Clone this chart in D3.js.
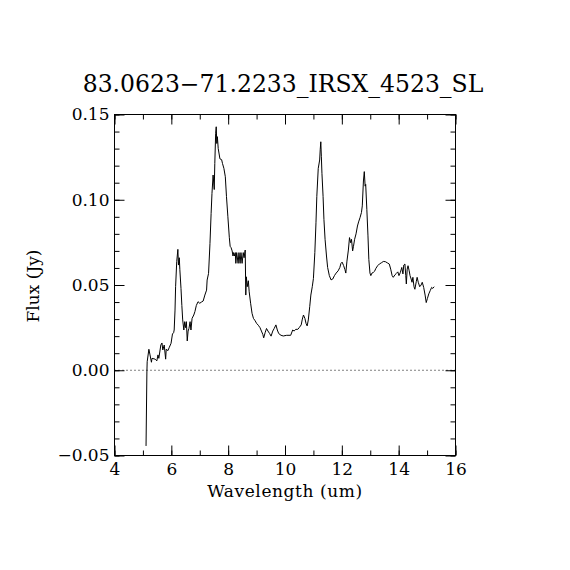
<!DOCTYPE html>
<html>
<head>
<meta charset="utf-8">
<script src="https://cdn.jsdelivr.net/npm/d3@7"></script>
<style>
  body { margin: 0; background: #fff; }
  text { font-family: "DejaVu Serif", "Liberation Serif", serif; fill: #000; }
</style>
</head>
<body>
<svg id="chart" width="570" height="570"></svg>
<script>
const svg = d3.select("#chart");

// spectrum: wavelength (um) and flux (Jy)
const wavelength = [5.11, 5.14, 5.15, 5.21, 5.25, 5.30, 5.32, 5.43, 5.49, 5.53, 5.56, 5.63, 5.67, 5.70, 5.75, 5.80, 5.82, 5.88, 5.93, 5.99,
  6.04, 6.08, 6.10, 6.13, 6.15, 6.19, 6.23, 6.25, 6.28, 6.30, 6.34, 6.37, 6.40, 6.44, 6.47, 6.50, 6.53, 6.56, 6.59, 6.62,
  6.66, 6.69, 6.73, 6.79, 6.83, 6.88, 6.94, 7.00, 7.06, 7.12, 7.18, 7.24, 7.26, 7.31, 7.36, 7.40, 7.43, 7.47, 7.51, 7.53,
  7.56, 7.58, 7.60, 7.62, 7.65, 7.71, 7.77, 7.80, 7.85, 7.90, 7.94, 7.99, 8.04, 8.07, 8.10, 8.14, 8.17, 8.19, 8.22, 8.25,
  8.27, 8.30, 8.35, 8.38, 8.42, 8.45, 8.49, 8.53, 8.56, 8.60, 8.62, 8.64, 8.67, 8.71, 8.74, 8.79, 8.84, 8.89, 8.95, 9.00,
  9.06, 9.12, 9.17, 9.22, 9.25, 9.30, 9.35, 9.40, 9.46, 9.51, 9.57, 9.62, 9.68, 9.73, 9.78, 9.86, 9.94, 10.06, 10.20, 10.27,
  10.32, 10.38, 10.45, 10.50, 10.57, 10.61, 10.65, 10.70, 10.74, 10.78, 10.82, 10.87, 10.91, 10.96, 11.00, 11.05, 11.09, 11.12, 11.17, 11.22,
  11.24, 11.26, 11.28, 11.30, 11.34, 11.37, 11.41, 11.46, 11.50, 11.56, 11.62, 11.68, 11.74, 11.80, 11.87, 11.93, 11.97, 12.01, 12.06, 12.11,
  12.14, 12.18, 12.23, 12.27, 12.31, 12.34, 12.38, 12.41, 12.45, 12.50, 12.55, 12.59, 12.64, 12.69, 12.72, 12.76, 12.79, 12.82, 12.84, 12.88,
  12.92, 12.95, 12.99, 13.02, 13.06, 13.11, 13.15, 13.20, 13.26, 13.32, 13.39, 13.46, 13.53, 13.60, 13.67, 13.72, 13.77, 13.81, 13.87, 13.92,
  13.97, 14.01, 14.06, 14.11, 14.15, 14.18, 14.22, 14.25, 14.27, 14.30, 14.33, 14.37, 14.40, 14.44, 14.47, 14.50, 14.54, 14.57, 14.62, 14.65,
  14.69, 14.74, 14.79, 14.83, 14.88, 14.93, 14.97, 15.01, 15.06, 15.11, 15.16, 15.20, 15.25];
const flux = [-0.0444, -0.001, 0.005, 0.0123, 0.009, 0.0047, 0.007, 0.0065, 0.0055, 0.009, 0.007, 0.0148, 0.016, 0.0119, 0.0148, 0.0065, 0.0123, 0.0115, 0.0135, 0.0158,
  0.0213, 0.022, 0.0236, 0.0353, 0.049, 0.0637, 0.0709, 0.0617, 0.066, 0.059, 0.048, 0.038, 0.0295, 0.0236, 0.0285, 0.025, 0.0285, 0.0172, 0.023, 0.0245,
  0.0285, 0.0236, 0.0304, 0.0324, 0.0344, 0.038, 0.0402, 0.0393, 0.040, 0.0406, 0.0441, 0.047, 0.0529, 0.0568, 0.0744, 0.092, 0.1037, 0.1145, 0.106, 0.1213,
  0.139, 0.1428, 0.133, 0.137, 0.130, 0.124, 0.1235, 0.1213, 0.1184, 0.1135, 0.102, 0.090, 0.078, 0.0727, 0.072, 0.070, 0.067, 0.069, 0.067, 0.069,
  0.0627, 0.069, 0.0627, 0.069, 0.0627, 0.069, 0.0627, 0.069, 0.066, 0.0705, 0.0441, 0.0548, 0.049, 0.0525, 0.046, 0.0393, 0.0334, 0.0304, 0.029, 0.0275,
  0.0264, 0.025, 0.023, 0.021, 0.019, 0.022, 0.0245, 0.023, 0.0215, 0.020, 0.023, 0.0245, 0.0266, 0.0236, 0.0215, 0.0205, 0.0201, 0.0205, 0.0205, 0.0236,
  0.023, 0.024, 0.024, 0.025, 0.0266, 0.030, 0.0324, 0.0304, 0.0275, 0.026, 0.0295, 0.0373, 0.0441, 0.049, 0.0538, 0.069, 0.0865, 0.102, 0.1184, 0.1233,
  0.1296, 0.134, 0.1252, 0.1155, 0.102, 0.0885, 0.0768, 0.067, 0.0603, 0.0555, 0.053, 0.0535, 0.0555, 0.057, 0.0583, 0.0603, 0.0627, 0.0634, 0.0615, 0.059,
  0.057, 0.064, 0.0705, 0.0778, 0.0748, 0.0768, 0.070, 0.0727, 0.0768, 0.080, 0.0846, 0.087, 0.0895, 0.0925, 0.0964, 0.111, 0.1165, 0.108, 0.109, 0.0944,
  0.0788, 0.065, 0.057, 0.0555, 0.057, 0.0574, 0.058, 0.0598, 0.0613, 0.0623, 0.063, 0.0638, 0.0637, 0.063, 0.0623, 0.0593, 0.0555, 0.0545, 0.056, 0.0568,
  0.0577, 0.0555, 0.0574, 0.0603, 0.0565, 0.0617, 0.0623, 0.0555, 0.0506, 0.0593, 0.0613, 0.0583, 0.0555, 0.0535, 0.0516, 0.0545, 0.049, 0.0475, 0.052, 0.0545,
  0.0516, 0.049, 0.050, 0.0516, 0.0486, 0.0441, 0.0397, 0.042, 0.0448, 0.0467, 0.0486, 0.048, 0.049];

const xTicks = [4, 6, 8, 10, 12, 14, 16];
const yTicks = [-0.05, 0.00, 0.05, 0.10, 0.15];
const title = "83.0623\u221271.2233_IRSX_4523_SL";

const mLeft = 114.5, mRight = 455.5, mTop = 114.5, mBottom = 455.5;

const x = d3.scaleLinear().domain([4, 16]).range([mLeft, mRight]);
const y = d3.scaleLinear().domain([-0.05, 0.15]).range([mBottom, mTop]);

// minor ticks
const xMinor = d3.range(4, 16.01, 1);
const yMinor = d3.range(-0.05, 0.1501, 0.01);

const fmtY = d => (d < -1e-9 ? "\u2212" : "") + Math.abs(d).toFixed(2);

// bottom axis with labels
svg.append("g")
    .attr("transform", `translate(0,${mBottom})`)
    .call(d3.axisBottom(x).tickValues(xMinor).tickSize(-5).tickFormat(""))
    .call(g => g.select(".domain").remove());
svg.append("g")
    .attr("transform", `translate(0,${mBottom})`)
    .call(d3.axisBottom(x).tickValues(xTicks).tickSize(-10).tickPadding(7).tickFormat(d3.format("d")))
    .call(g => g.select(".domain").remove())
    .call(g => g.selectAll("text").attr("font-size", 17).attr("font-family", "DejaVu Serif"));

// top axis (ticks only)
svg.append("g")
    .attr("transform", `translate(0,${mTop})`)
    .call(d3.axisTop(x).tickValues(xMinor).tickSize(-5).tickFormat(""))
    .call(g => g.select(".domain").remove());
svg.append("g")
    .attr("transform", `translate(0,${mTop})`)
    .call(d3.axisTop(x).tickValues(xTicks).tickSize(-10).tickFormat(""))
    .call(g => g.select(".domain").remove());

// left axis with labels
svg.append("g")
    .attr("transform", `translate(${mLeft},0)`)
    .call(d3.axisLeft(y).tickValues(yMinor).tickSize(-5).tickFormat(""))
    .call(g => g.select(".domain").remove());
svg.append("g")
    .attr("transform", `translate(${mLeft},0)`)
    .call(d3.axisLeft(y).tickValues(yTicks).tickSize(-10).tickPadding(5).tickFormat(fmtY))
    .call(g => g.select(".domain").remove())
    .call(g => g.selectAll("text").attr("font-size", 17).attr("font-family", "DejaVu Serif"));

// right axis (ticks only)
svg.append("g")
    .attr("transform", `translate(${mRight},0)`)
    .call(d3.axisRight(y).tickValues(yMinor).tickSize(-5).tickFormat(""))
    .call(g => g.select(".domain").remove());
svg.append("g")
    .attr("transform", `translate(${mRight},0)`)
    .call(d3.axisRight(y).tickValues(yTicks).tickSize(-10).tickFormat(""))
    .call(g => g.select(".domain").remove());

svg.selectAll(".tick line").attr("stroke", "#000");

// frame
svg.append("rect")
    .attr("x", mLeft).attr("y", mTop)
    .attr("width", mRight - mLeft).attr("height", mBottom - mTop)
    .attr("fill", "none").attr("stroke", "#000").attr("stroke-width", 1);

// zero line (dotted)
svg.append("line")
    .attr("x1", mLeft).attr("x2", mRight)
    .attr("y1", y(0)).attr("y2", y(0))
    .attr("stroke", "#000").attr("stroke-width", 1)
    .attr("stroke-dasharray", "1,3");

// spectrum
const line = d3.line().x((d, i) => x(wavelength[i])).y(d => y(d));
svg.append("path")
    .datum(flux)
    .attr("d", line)
    .attr("fill", "none")
    .attr("stroke", "#000")
    .attr("stroke-width", 1);

// title and axis titles
svg.append("text")
    .attr("x", 283).attr("y", 92)
    .attr("text-anchor", "middle")
    .attr("font-size", 23.5)
    .text(title);

svg.append("text")
    .attr("x", 285).attr("y", 497)
    .attr("text-anchor", "middle")
    .attr("font-size", 17)
    .attr("letter-spacing", 0.6)
    .text("Wavelength (um)");

svg.append("text")
    .attr("transform", "translate(39,286) rotate(-90)")
    .attr("text-anchor", "middle")
    .attr("font-size", 17)
    .text("Flux (Jy)");
</script>
</body>
</html>
